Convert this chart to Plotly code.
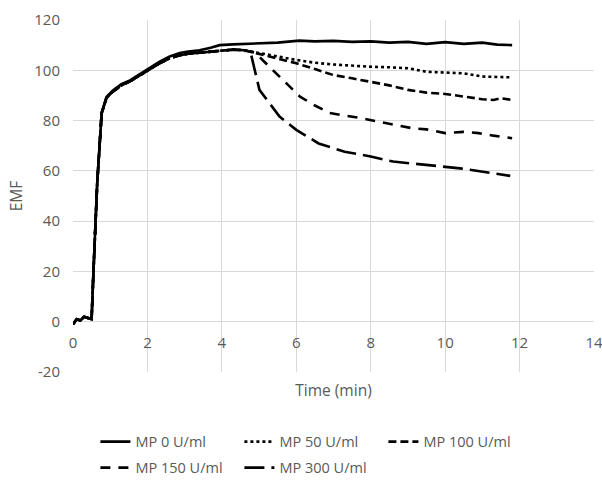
import plotly.graph_objects as go

# ---- data ----
t_mp0 = [0, 0.1, 0.2, 0.3, 0.4, 0.5, 0.55, 0.65, 0.77, 0.9, 1.07, 1.3, 1.53, 1.75, 1.98, 2.33, 2.6,
         2.87, 3.1, 3.4, 3.7, 3.94, 4.3, 4.6, 5.0, 5.5, 6.08, 6.5, 7.0, 7.5, 8.0, 8.5, 9.0, 9.5,
         10.0, 10.5, 11.0, 11.4, 11.8]
y_mp0 = [-1, 1, 0.5, 2, 1.5, 1, 20, 55, 83, 89.4, 92, 94.5, 96, 98, 100, 103.4, 105.5,
         106.9, 107.5, 108, 109, 110, 110.3, 110.5, 110.7, 111, 111.8, 111.5, 111.7, 111.3, 111.5, 111, 111.3, 110.5,
         111.2, 110.5, 111, 110.2, 110]

t_common = [0, 0.1, 0.2, 0.3, 0.4, 0.5, 0.55, 0.65, 0.77, 0.9, 1.07, 1.3, 1.53, 1.75, 1.98, 2.33, 2.6,
            2.87, 3.1, 3.4, 3.7, 3.94, 4.3, 4.6]
y_common = [-1, 1, 0.5, 2, 1.5, 1, 20, 55, 83, 89.0, 91.5, 94.0, 95.6, 97.6, 99.6, 102.8, 104.8,
            106.0, 106.6, 107.0, 107.6, 108.0, 108.2, 108.0]

t_mp50 = [5.0, 5.5, 6.0, 6.5, 7.0, 7.5, 8.0, 8.5, 9.0, 9.5, 10.0, 10.5, 11.0, 11.4, 11.8]
y_mp50 = [107, 105.5, 104.1, 103, 102.3, 101.8, 101.4, 101.2, 100.8, 99.4, 99, 98.8, 97.5, 97.3, 97.2]

t_mp100 = [5.0, 5.5, 6.0, 6.5, 7.0, 7.5, 8.0, 8.5, 9.0, 9.5, 10.0, 10.5, 11.0, 11.3, 11.5, 11.8]
y_mp100 = [106.5, 104.5, 102.8, 100.5, 98.1, 96.8, 95.5, 94, 92.2, 91.1, 90.6, 89.5, 88.5, 88.2, 88.9, 88.2]

t_mp150 = [4.9, 5.1, 5.55, 6.1, 6.5, 6.9, 7.3, 7.77, 8.4, 9.1, 9.5, 10.0, 10.5, 10.9, 11.3, 11.8]
y_mp150 = [107, 104, 97.5, 89.5, 86, 83, 82, 80.9, 79, 77, 76.5, 75, 75.5, 75, 74, 73]

t_mp300 = [4.79, 5.01, 5.55, 6.0, 6.6, 7.3, 8.0, 8.6, 9.5, 10.4, 11.3, 11.75]
y_mp300 = [106, 92.2, 81.6, 76.3, 70.9, 67.6, 65.7, 63.7, 62.4, 61, 59, 58]

names = ["MP 0 U/ml", "MP 50 U/ml", "MP 100 U/ml", "MP 150 U/ml", "MP 300 U/ml"]
x_ticks = [0, 2, 4, 6, 8, 10, 12, 14]
y_ticks = [-20, 0, 20, 40, 60, 80, 100, 120]

series = [
    (t_mp0, y_mp0),
    (t_common + t_mp50, y_common + y_mp50),
    (t_common + t_mp100, y_common + y_mp100),
    (t_common + t_mp150, y_common + y_mp150),
    (t_common + t_mp300, y_common + y_mp300),
]
dashes = ["solid", "3px,3px", "8px,4px", "10px,8px", "20px,7px"]
legends = ["legend", "legend", "legend", "legend2", "legend2"]

GRAY = "#595959"
GRID = "#d9d9d9"
FONT = "Open Sans"

fig = go.Figure()
for (xs, ys), nm, ds, lg in zip(series, names, dashes, legends):
    fig.add_trace(go.Scatter(x=xs, y=ys, name=nm, mode="lines",
                             line=dict(color="black", width=2.6, dash=ds),
                             legend=lg))

leg_common = dict(orientation="h", xanchor="left", yanchor="middle",
                  font=dict(family=FONT, size=14.5, color=GRAY),
                  entrywidth=99, bgcolor="rgba(0,0,0,0)")

fig.update_layout(
    width=602, height=484,
    margin=dict(l=73, r=8, t=20, b=112, autoexpand=False),
    plot_bgcolor="white", paper_bgcolor="white",
    font=dict(family=FONT, size=15, color=GRAY),
    legend=dict(x=0.043, y=-0.198, **leg_common),
    legend2=dict(x=0.043, y=-0.272, **leg_common),
    xaxis=dict(range=[0, 14], tickvals=x_ticks, ticktext=[str(v) for v in x_ticks],
               showgrid=True, gridcolor=GRID, gridwidth=1, zeroline=False,
               showline=False, anchor="free", position=20 / 140,
               ticks="", ticklabelstandoff=10, ticklabeloverflow="allow",
               automargin=False,
               title=dict(text="Time (min)", standoff=34,
                          font=dict(family=FONT, size=15.5, color=GRAY)),
               tickfont=dict(family=FONT, size=15, color=GRAY)),
    yaxis=dict(range=[-20, 120], tickvals=y_ticks, ticktext=[str(v) for v in y_ticks],
               showgrid=True, gridcolor=GRID, gridwidth=1,
               zeroline=True, zerolinecolor=GRID, zerolinewidth=1,
               showline=False, ticks="", ticklabelstandoff=12,
               automargin=False,
               title=dict(text="EMF", standoff=7,
                          font=dict(family=FONT, size=15.5, color=GRAY)),
               tickfont=dict(family=FONT, size=15, color=GRAY)),
)

# remove the default page margin so the figure sits at the window's top-left corner
fig.write_html("out.html",
               config={"displayModeBar": False},
               post_script="document.body.style.margin='0';"
                           "document.body.style.overflow='hidden';")
